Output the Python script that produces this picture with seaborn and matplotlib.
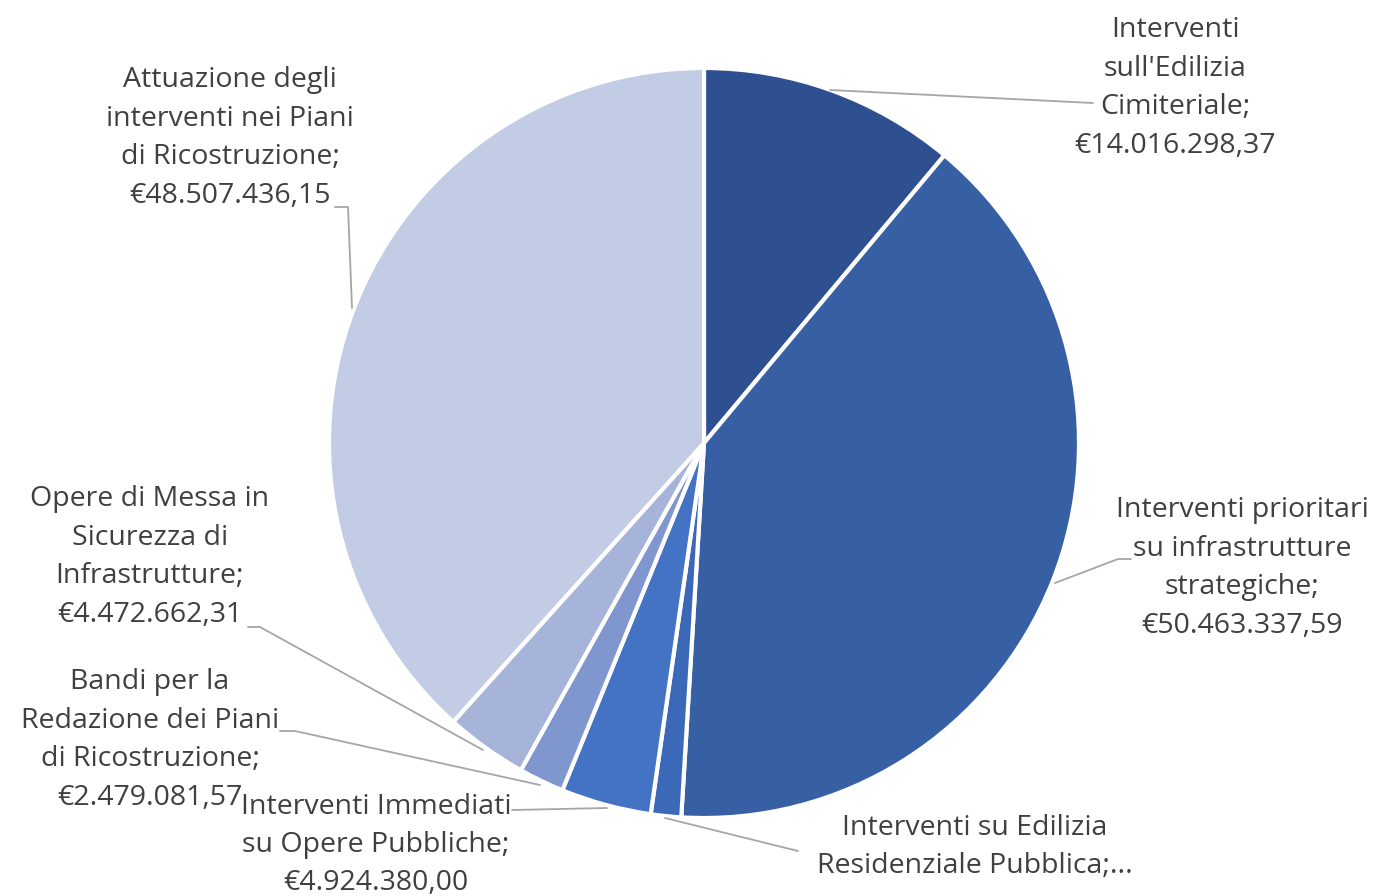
import matplotlib
matplotlib.use("Agg")
import matplotlib.pyplot as plt
import seaborn as sns

# Dati
categorie = [
    "Interventi\nsull'Edilizia\nCimiteriale;\n€14.016.298,37",
    "Interventi prioritari\nsu infrastrutture\nstrategiche;\n€50.463.337,59",
    "Interventi su Edilizia\nResidenziale Pubblica;...",
    "Interventi Immediati\nsu Opere Pubbliche;\n€4.924.380,00",
    "Bandi per la\nRedazione dei Piani\ndi Ricostruzione;\n€2.479.081,57",
    "Opere di Messa in\nSicurezza di\nInfrastrutture;\n€4.472.662,31",
    "Attuazione degli\ninterventi nei Piani\ndi Ricostruzione;\n€48.507.436,15",
]
valori = [14016298.37, 50463337.59, 1650000.00, 4924380.00, 2479081.57, 4472662.31, 48507436.15]
colori = ["#2F5090", "#375FA3", "#3B69B8", "#4472C4", "#7F96CF", "#A7B4DA", "#C2CCE5"]

sns.set_theme(style="white")
plt.rcParams["font.family"] = ["Open Sans", "DejaVu Sans"]

W, H = 1375, 896
CX, CY, R = 704, 443, 375


def px(x, y):
    # pixel -> coordinate dati
    return (x - CX) / R, (CY - y) / R


fig = plt.figure(figsize=(W / 100, H / 100), dpi=100)
ax = fig.add_axes([0, 0, 1, 1])
ax.pie(valori, colors=colori, startangle=90, counterclock=False, radius=1,
       wedgeprops=dict(edgecolor="white", linewidth=3))
ax.set_xlim(-CX / R, (W - CX) / R)
ax.set_ylim(-(H - CY) / R, CY / R)
ax.set_aspect("equal")
ax.axis("off")

# posizioni etichette (centro testo) e linee guida in pixel
etichette = [
    ((1175, 88), [(830, 90), (1093, 103)]),
    ((1242, 568), [(1055, 583), (1118, 559), (1131, 559)]),
    ((975, 847), [(665, 818), (798, 851)]),
    ((376, 845), [(607, 808), (512, 810)]),
    ((150, 740), [(540, 785), (295, 731), (280, 731)]),
    ((150, 557), [(483, 750), (260, 627), (248, 627)]),
    ((230, 138), [(352, 308), (348, 207), (335, 207)]),
]

for testo, ((tx, ty), linea) in zip(categorie, etichette):
    xs, ys = zip(*[px(x, y) for x, y in linea])
    ax.plot(xs, ys, color="#A6A6A6", lw=1.3)
    x, y = px(tx, ty)
    ax.text(x, y, testo, ha="center", va="center", fontsize=20.5,
            color="#404040", linespacing=1.5)

fig.savefig("out.png", dpi=100)
